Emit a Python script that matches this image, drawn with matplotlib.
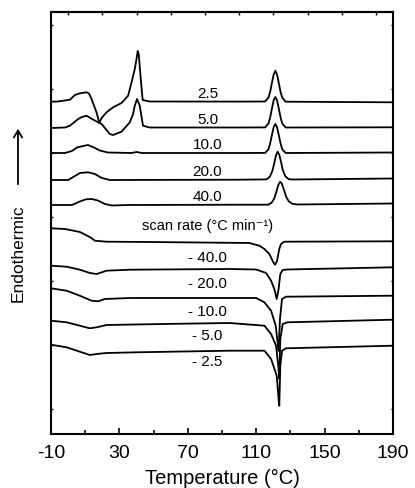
import numpy as np
import matplotlib
matplotlib.use('Agg')
import matplotlib.pyplot as plt
from matplotlib.ticker import MultipleLocator, FixedLocator

plt.rcParams['font.family'] = ['Liberation Sans', 'DejaVu Sans']
plt.rcParams['axes.unicode_minus'] = False

# heat flow (a.u., curves already stacked), temperature in degC
heat_25_T = [-10, -5.9, 1.1, 4.0, 6.9, 10.8, 12.2, 13.7, 16.6, 18.3, 19.6, 22.5, 26.3, 31.2, 35.1, 37.1,
             39.0, 40.2, 40.7, 41.3, 42.5, 43.6, 47.7, 100, 115.2, 117.2, 118.2, 119.2, 120.2, 121.2,
             122.2, 123.2, 124.2, 125.2, 127.2, 190]
heat_25_v = [332.3, 332.5, 334.3, 339, 340.7, 341.7, 340.5, 335, 321.7, 311, 316, 321.7, 326.7, 331, 338.3, 351.7,
             365, 377, 383, 380, 355, 334, 332.5, 332.4, 332.5, 336.5, 342.3, 351.3, 359.3, 363.3,
             359.3, 351.3, 342.3, 336.5, 332.3, 331.7]

heat_50_T = [-10, -1.8, 1.1, 5.9, 8.1, 10.8, 14.7, 19.6, 24.4, 26.3, 31.2, 36.1, 38.0, 39.0, 40.3, 41.9,
             43.8, 47.7, 100, 115.2, 117.2, 118.2, 119.2, 120.2, 121.2, 122.2, 123.2, 124.2, 125.2, 127.2, 190]
heat_50_v = [306, 306.5, 308.3, 315, 317, 318.3, 314.3, 310, 300, 299, 302.3, 311.7, 320, 328.3, 335, 328.3,
             308.3, 306.5, 306.5, 306.6, 310.6, 317, 325.5, 333.7, 337, 333.7, 325.5, 317, 310.6, 306.5, 306.7]

heat_10_T = [-10, -1.8, 2.2, 5.2, 8.1, 11.6, 14.5, 18.6, 23.2, 37.0, 40.2, 43.0, 100, 115.2, 117.2, 118.2,
             119.2, 120.2, 121.2, 122.2, 123.2, 124.2, 125.2, 127.2, 190]
heat_10_v = [281, 281, 283, 286.5, 287.7, 289, 287, 283.5, 281.5, 281, 282, 281, 281, 281.1, 284.8, 290.9,
             299, 306.8, 310, 306.8, 299, 290.9, 284.8, 281, 281.5]

heat_20_T = [-10, 0, 4.0, 6.9, 11.6, 15.7, 19.7, 24.4, 100, 116, 118, 119.5, 120.5, 121.5, 122.5, 123.5,
             124.5, 125.5, 127, 129, 131, 190]
heat_20_v = [254, 254, 258, 261, 261.7, 260, 256, 254, 254.3, 254.6, 257.3, 263.3, 270.3, 278.3, 282.3, 279.3,
             272.3, 264.3, 257.8, 254.8, 254.5, 255.5]

heat_40_T = [-10, 2.2, 6.9, 10.4, 13.9, 17.4, 21.5, 25.6, 35, 100, 117, 119, 120.5, 121.8, 123, 124, 125,
             126.2, 127.5, 129, 131, 134, 190]
heat_40_v = [229, 229, 232.5, 234.7, 235, 233.5, 230, 228.5, 229, 229.3, 229.3, 231.3, 235.3, 242.3, 249.3,
             252.3, 250.3, 244.3, 237.3, 232.8, 230.3, 229.5, 230.5]

cool_40_T = [-10, -1.8, 6.9, 12.7, 15.7, 22.5, 47.7, 106.0, 111.9, 114.8, 117.7, 120.0, 121.0, 122.2,
             123.5, 124.5, 126.4, 190]
cool_40_v = [205.7, 205, 202, 197, 193.3, 192.3, 192, 191, 188.3, 185, 180, 171.7, 169.3, 173.3,
             185, 190, 192.3, 192.7]

cool_20_T = [-10, -0.9, 6.9, 12.7, 16.7, 22.5, 36.1, 94.4, 110, 115.8, 118.7, 120.6, 122.0, 123.1,
             124.1, 125.5, 128, 190]
cool_20_v = [168.3, 167.3, 164.3, 161, 160, 163.3, 164.3, 165, 164.5, 161, 153.3, 145, 135, 145,
             160, 164, 164.5, 166.7]

cool_10_T = [-10, -0.9, 6.9, 13.7, 17.6, 21.5, 36.1, 110, 114.8, 118.7, 121.4, 122.5, 123.1, 123.9,
             125.1, 127.4, 190]
cool_10_v = [145.7, 143.3, 138.3, 133.3, 132.7, 135, 136, 136, 131.7, 123.3, 108.3, 92, 83, 115,
             135, 137.3, 138.3]

cool_5_T = [-10, -0.9, 6.9, 12.7, 16.7, 22.5, 55.3, 94.4, 114.8, 118.7, 121.6, 122.9, 123.5, 124.1,
            125.5, 128.4, 190]
cool_5_v = [113.3, 111.7, 108.3, 105.7, 106.7, 109, 110, 111, 108.3, 100, 88.3, 68.3, 55, 95,
            110, 111.7, 114.3]

cool_25_T = [-10, -0.9, 6.9, 12.7, 16.7, 22.5, 40.0, 94.4, 114.8, 118.7, 122.0, 123.1, 123.5, 124.1,
             125.1, 127.4, 190]
cool_25_v = [89.3, 86.7, 82.3, 79, 80, 81, 81.7, 83.3, 83.3, 75, 58.3, 35, 28.3, 68.3,
             83.3, 85.7, 88.3]

heat_labels = ['2.5', '5.0', '10.0', '20.0', '40.0']
cool_labels = ['- 40.0', '- 20.0', '- 10.0', '- 5.0', '- 2.5']
x_ticks = [-10, 30, 70, 110, 150, 190]
x_minor = [10, 50, 90, 130, 170]


def main():
    fig = plt.figure(figsize=(4.15, 4.89), dpi=100)
    ax = fig.add_axes([51 / 415, 54 / 489, 342 / 415, 422 / 489])

    curves = [
        (heat_25_T, heat_25_v), (heat_50_T, heat_50_v), (heat_10_T, heat_10_v),
        (heat_20_T, heat_20_v), (heat_40_T, heat_40_v),
        (cool_40_T, cool_40_v), (cool_20_T, cool_20_v), (cool_10_T, cool_10_v),
        (cool_5_T, cool_5_v), (cool_25_T, cool_25_v),
    ]
    for T, v in curves:
        ax.plot(T, v, color='black', lw=1.3, solid_joinstyle='round')

    # labels sit just above heating curves / just below cooling curves
    for lab, v in zip(heat_labels, [heat_25_v, heat_50_v, heat_10_v, heat_20_v, heat_40_v]):
        ax.text(81.5, v[0] + 8.5, lab, ha='center', va='center', fontsize=11)
    for lab, v in zip(cool_labels, [cool_40_v, cool_20_v, cool_10_v, cool_5_v, cool_25_v]):
        ax.text(81.5, v[-1] - 15.5, lab, ha='center', va='center', fontsize=11)
    ax.text(81.5, 208.5, 'scan rate (°C min⁻¹)', ha='center', va='center', fontsize=10.5)

    ax.set_xlim(-10, 190)
    ax.set_ylim(0, 422)
    ax.xaxis.set_major_locator(FixedLocator(x_ticks))
    ax.xaxis.set_minor_locator(FixedLocator(x_minor))
    ax.yaxis.set_major_locator(FixedLocator(np.arange(25, 422, 64)))
    ax.tick_params(axis='x', which='major', direction='in', length=4, width=1.2,
                   labelsize=14, pad=7)
    ax.tick_params(axis='x', which='minor', direction='in', length=3, width=1.2)
    ax.tick_params(axis='y', which='major', direction='in', length=1.5, width=1,
                   left=True, right=True, labelleft=False)
    for s in ax.spines.values():
        s.set_linewidth(1.5)
    ax.set_xlabel('Temperature (°C)', fontsize=14.5, labelpad=5)

    # top axis: small ticks every 20 degC
    top = ax.secondary_xaxis('top')
    top.xaxis.set_major_locator(MultipleLocator(20))
    top.tick_params(direction='in', length=2, width=1, labeltop=False)
    top.spines['top'].set_linewidth(1.5)

    fig.text(18 / 415, 1 - 253 / 489, 'Endothermic', rotation=90, ha='center', va='center',
             fontsize=12.5)
    fig.patches.append(matplotlib.patches.FancyArrowPatch(
        (18 / 415, 1 - 188 / 489), (18 / 415, 1 - 127 / 489), transform=fig.transFigure,
        arrowstyle='->,head_length=5,head_width=3', color='black', lw=1.3))

    fig.savefig('out.png', dpi=100)


if __name__ == '__main__':
    main()
